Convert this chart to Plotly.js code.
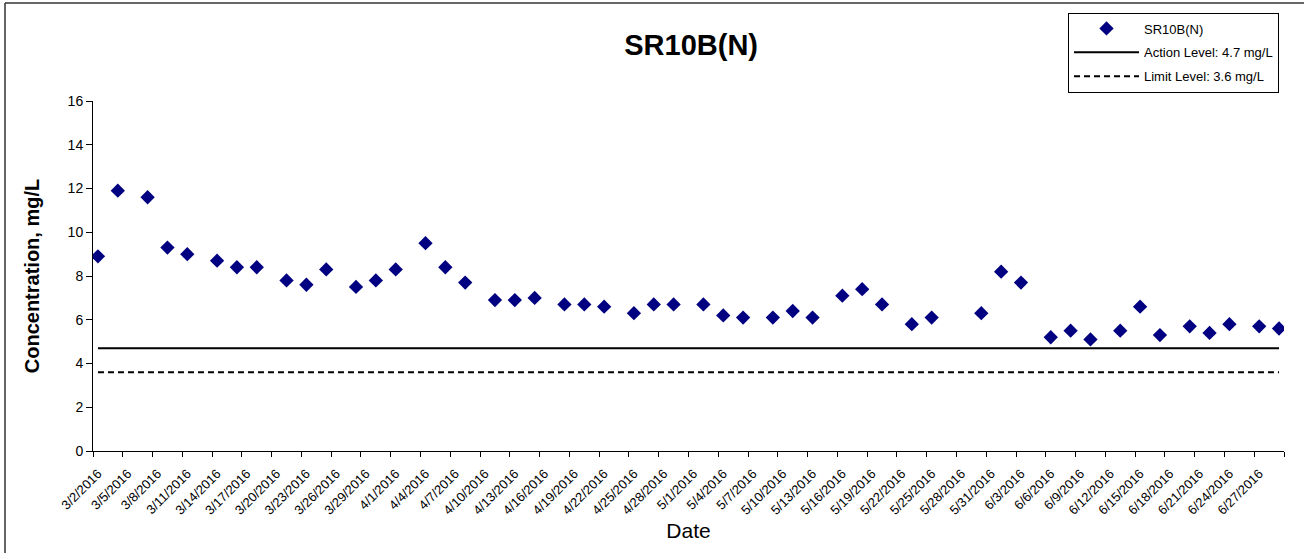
<!DOCTYPE html>
<html>
<head>
<meta charset="utf-8">
<script src="https://cdn.plot.ly/plotly-3.0.1.min.js"></script>
<style>html,body{margin:0;padding:0;background:#fff;}#chart{width:1304px;height:553px;}</style>
</head>
<body>
<div id="chart"></div>
<script>
const sampleDates = ["3/2/2016","3/4/2016","3/7/2016","3/9/2016","3/11/2016","3/14/2016","3/16/2016","3/18/2016","3/21/2016","3/23/2016","3/25/2016","3/28/2016","3/30/2016","4/1/2016","4/4/2016","4/6/2016","4/8/2016","4/11/2016","4/13/2016","4/15/2016","4/18/2016","4/20/2016","4/22/2016","4/25/2016","4/27/2016","4/29/2016","5/2/2016","5/4/2016","5/6/2016","5/9/2016","5/11/2016","5/13/2016","5/16/2016","5/18/2016","5/20/2016","5/23/2016","5/25/2016","5/30/2016","6/1/2016","6/3/2016","6/6/2016","6/8/2016","6/10/2016","6/13/2016","6/15/2016","6/17/2016","6/20/2016","6/22/2016","6/24/2016","6/27/2016","6/29/2016"];
const concentration = [8.9,11.9,11.6,9.3,9.0,8.7,8.4,8.4,7.8,7.6,8.3,7.5,7.8,8.3,9.5,8.4,7.7,6.9,
  6.9,7.0,6.7,6.7,6.6,6.3,6.7,6.7,6.7,6.2,6.1,6.1,6.4,6.1,7.1,7.4,6.7,
  5.8,6.1,6.3,8.2,7.7,5.2,5.5,5.1,5.5,6.6,5.3,5.7,5.4,5.8,5.7,5.6];
const tickLabels = ["3/2/2016","3/5/2016","3/8/2016","3/11/2016","3/14/2016","3/17/2016","3/20/2016","3/23/2016","3/26/2016","3/29/2016","4/1/2016","4/4/2016","4/7/2016","4/10/2016","4/13/2016","4/16/2016","4/19/2016","4/22/2016","4/25/2016","4/28/2016","5/1/2016","5/4/2016","5/7/2016","5/10/2016","5/13/2016","5/16/2016","5/19/2016","5/22/2016","5/25/2016","5/28/2016","5/31/2016","6/3/2016","6/6/2016","6/9/2016","6/12/2016","6/15/2016","6/18/2016","6/21/2016","6/24/2016","6/27/2016"];
const actionLevel = 4.7;
const limitLevel = 3.6;
const seriesName = "SR10B(N)";
const actionName = "Action Level: 4.7 mg/L";
const limitName = "Limit Level: 3.6 mg/L";

function toISO(s){const p=s.split('/');return p[2]+'-'+String(p[0]).padStart(2,'0')+'-'+String(p[1]).padStart(2,'0');}
const xDates = sampleDates.map(toISO);
const tickVals = tickLabels.map(toISO);
const DAY = 86400000;
const firstMs = Date.parse(xDates[0]+'T00:00:00Z');
const lastMs = Date.parse(xDates[xDates.length-1]+'T00:00:00Z');
function msToStr(ms){const d=new Date(ms);return d.toISOString().replace('T',' ').slice(0,19);}
const xRange = [msToStr(firstMs-DAY/2), msToStr(lastMs+DAY/2)];

const font = "Arial, 'Liberation Sans', sans-serif";
const traces = [
  {x:xDates, y:concentration, type:'scatter', mode:'markers', name:seriesName, legendgroup:'a',
   marker:{symbol:'diamond', size:11, color:'#000080'}},
  {x:[xDates[0], xDates[xDates.length-1]], y:[actionLevel, actionLevel], type:'scatter', mode:'lines', name:actionName, legendgroup:'b',
   line:{color:'#000', width:2}},
  {x:[xDates[0], xDates[xDates.length-1]], y:[limitLevel, limitLevel], type:'scatter', mode:'lines', name:limitName, legendgroup:'c',
   line:{color:'#000', width:2, dash:'6px,4px'}}
];
const layout = {
  width:1304, height:553,
  margin:{l:93, r:20, t:99, b:102},
  paper_bgcolor:'#fff', plot_bgcolor:'#fff',
  font:{family:font, color:'#000'},
  title:{text:'<b>SR10B(N)</b>', font:{family:font, size:29, color:'#000'}, x:0.53, xanchor:'center', y:1-45/553, yanchor:'middle', xref:'container', yref:'container'},
  xaxis:{type:'date', range:xRange, tickmode:'array', tickvals:tickVals, ticktext:tickLabels, tickangle:-45,
    ticks:'', showgrid:false, zeroline:false, showline:true, linecolor:'#000', linewidth:1,
    ticklabelstandoff:9,
    tickfont:{family:font, size:13, color:'#000'},
    minor:{tick0:xRange[0], dtick:3*DAY, ticks:'outside', ticklen:5, tickcolor:'#000', tickwidth:1, showgrid:false},
    title:{text:'Date', font:{family:font, size:21, color:'#000'}, standoff:6}, automargin:false},
  yaxis:{range:[0,16], dtick:2, tick0:0, ticks:'outside', ticklen:6, tickcolor:'#000', showgrid:false, zeroline:false,
    showline:true, linecolor:'#000', linewidth:1, tickfont:{family:font, size:14, color:'#000'},
    title:{text:'<b>Concentration, mg/L</b>', font:{family:font, size:20, color:'#000'}, standoff:22}, automargin:false},
  legend:{x:(1068-93)/1191, y:(451-10)/352, xanchor:'left', yanchor:'top', bgcolor:'#fff', bordercolor:'#000', borderwidth:1,
    font:{family:font, size:13, color:'#000'}, tracegroupgap:4, itemwidth:65},
  showlegend:true,
  shapes:[
    {type:'line', xref:'paper', yref:'paper', x0:(5-93)/1191, x1:(5-93)/1191, y0:(451-600)/352, y1:(451-0.5)/352, line:{color:'#333', width:1.5}},
    {type:'line', xref:'paper', yref:'paper', x0:(5-93)/1191, x1:(1400-93)/1191, y0:(451-0.5)/352, y1:(451-0.5)/352, line:{color:'#333', width:1.5}}
  ]
};
Plotly.newPlot('chart', traces, layout, {displayModeBar:false, staticPlot:true});
</script>
</body>
</html>
